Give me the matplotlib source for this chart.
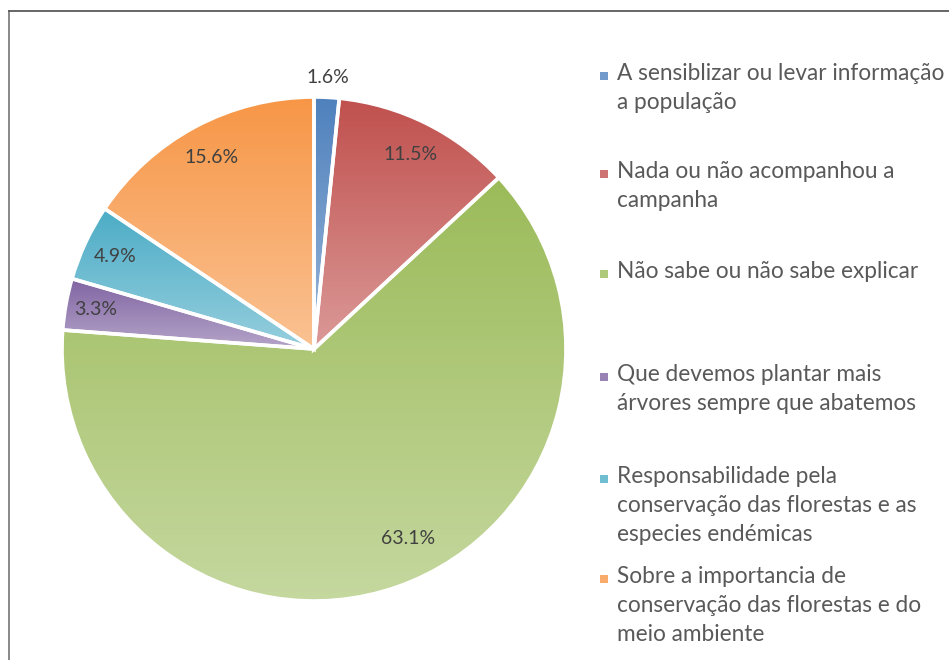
import numpy as np
import matplotlib
matplotlib.use('Agg')
import matplotlib.pyplot as plt
from matplotlib.patches import Wedge, Rectangle
from matplotlib.lines import Line2D

plt.rcParams['font.family'] = ['Lato', 'DejaVu Sans']

# ---------------------------------------------------------------------------
# Data
# ---------------------------------------------------------------------------
categories = [
    'A sensiblizar ou levar informação\na população',
    'Nada ou não acompanhou a\ncampanha',
    'Não sabe ou não sabe explicar',
    'Que devemos plantar mais\nárvores sempre que abatemos',
    'Responsabilidade pela\nconservação das florestas e as\nespecies endémicas',
    'Sobre a importancia de\nconservação das florestas e do\nmeio ambiente',
]
values = [1.6, 11.5, 63.1, 3.3, 4.9, 15.6]
colors = ['#4F81BD', '#C0504D', '#9BBB59', '#8064A2', '#4BACC6', '#F79646']

# label placement (radius as fraction of pie radius, angle nudge in degrees)
label_r = [1.08, 0.86, 0.84, 0.88, 0.87, 0.86]
label_da = [0, 0, 7, 0, 0, 0]

W, H = 949, 660
fig = plt.figure(figsize=(W / 100, H / 100), dpi=100)

# outer frame (cut off at right and bottom like the screenshot)
fig.add_artist(Line2D([8.5 / W, 8.5 / W], [0, 1 - 11 / H], color='#7f7f7f', lw=1.3))
fig.add_artist(Line2D([8.5 / W, 1], [1 - 11 / H, 1 - 11 / H], color='#5a5a5a', lw=1.3))

cx, cy, R = 314, 349, 252
ax = fig.add_axes([(cx - R) / W, (H - cy - R) / H, 2 * R / W, 2 * R / H])
ax.set_xlim(-1, 1)
ax.set_ylim(-1, 1)
ax.set_aspect('equal')
ax.axis('off')


def lighten(c, f):
    rgb = np.array(matplotlib.colors.to_rgb(c))
    return rgb + (1 - rgb) * f


start = 90.0
total = sum(values)
for v, c, lr, da in zip(values, colors, label_r, label_da):
    sweep = 360.0 * v / total
    t1, t2 = start - sweep, start
    w = Wedge((0, 0), 1.0, t1, t2, facecolor='none', edgecolor='white', lw=2.6, zorder=3)
    ax.add_patch(w)
    # per-slice vertical gradient, darker at top
    th = np.radians(np.linspace(t1, t2, 200))
    ys = np.concatenate([[0], np.sin(th)])
    xs = np.concatenate([[0], np.cos(th)])
    top, bot = ys.max(), ys.min()
    grad = np.linspace(0, 1, 256)[:, None]
    c0 = lighten(c, 0.0)
    c1 = lighten(c, 0.42)
    img = (c0[None, None, :] * (1 - grad[..., None]) + c1[None, None, :] * grad[..., None])
    im = ax.imshow(img, extent=[xs.min(), xs.max(), bot, top], origin='upper',
                   aspect='auto', zorder=2, interpolation='bilinear')
    clip = Wedge((0, 0), 1.0, t1, t2, transform=ax.transData)
    im.set_clip_path(clip)
    mid = np.radians((t1 + t2) / 2 + da)
    ax.text(lr * np.cos(mid), lr * np.sin(mid), f'{v:.1f}%', ha='center', va='center',
            fontsize=14, color='#404040', zorder=5)
    start = t1

ax.set_xlim(-1, 1)
ax.set_ylim(-1, 1)

# legend
first_line_y = [76, 174, 274, 377, 479, 579]
for lab, c, yy in zip(categories, colors, first_line_y):
    fig.add_artist(Rectangle((600 / W, 1 - (yy + 4) / H), 8 / W, 8 / H,
                             facecolor=lighten(c, 0.2), edgecolor='none'))
    fig.text(617 / W, 1 - (yy - 13) / H, lab, ha='left', va='top', fontsize=16.3,
             color='#595959', linespacing=1.47)

fig.savefig('out.png', dpi=100)
